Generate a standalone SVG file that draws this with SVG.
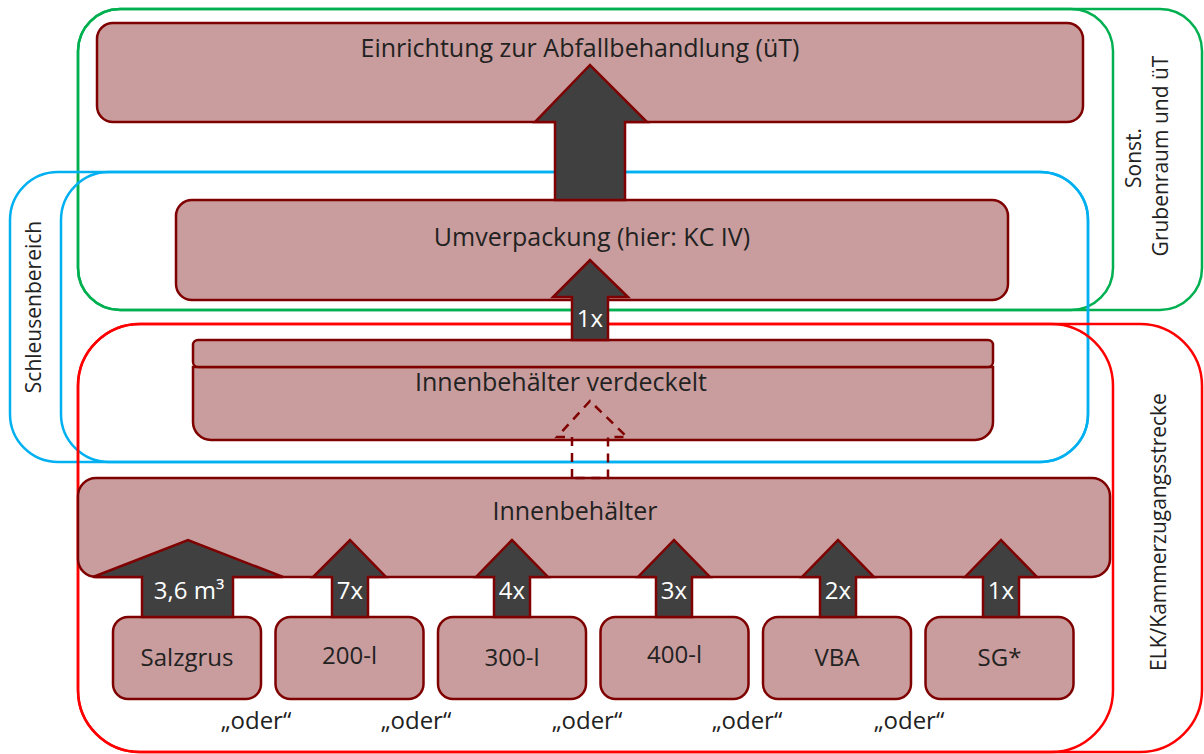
<svg xmlns="http://www.w3.org/2000/svg" width="1204" height="754" viewBox="0 0 1204 754">
<style>
.bg{fill:#ffffff}
.reg{fill:none;stroke-width:2.5}
.g{stroke:#00B050}
.b{stroke:#00B0F0}
.r{stroke:#FF0000}
.box{fill:#C99D9D;stroke:#7F0000;stroke-width:2.5}
.arr{fill:#404040;stroke:#7F0000;stroke-width:2.5;stroke-linejoin:miter}
.dash{fill:none;stroke:#7F0000;stroke-width:2.5;stroke-dasharray:9,7}
text{font-family:"Open Sans","Noto Sans","Liberation Sans",sans-serif;font-size:24px;fill:#222222}
.big{font-size:25px}
.side{font-size:21px}
.c{text-anchor:middle}
.w{fill:#ffffff}
</style>
<rect class="bg" width="1204" height="754"/>
<g id="regions">
  <rect class="reg g" x="78" y="9" width="1124" height="301" rx="42"/>
  <rect class="reg g" x="78" y="9" width="1035" height="301" rx="42"/>
  <rect class="reg b" x="10" y="172" width="1078" height="290" rx="48"/>
  <rect class="reg b" x="61" y="172" width="1027" height="290" rx="48"/>
  <rect class="reg r" x="78" y="324" width="1124" height="428" rx="62"/>
  <rect class="reg r" x="78" y="324" width="1035" height="428" rx="62"/>
  <text transform="translate(41,307) rotate(-90)" class="c side">Schleusenbereich</text>
  <text transform="translate(1141,158) rotate(-90)" class="c side">Sonst.</text>
  <text transform="translate(1168,156) rotate(-90)" class="c side">Grubenraum und üT</text>
  <text transform="translate(1166,532) rotate(-90)" class="c side">ELK/Kammerzugangsstrecke</text>
</g>
<g id="node-einrichtung">
  <rect class="box" x="97" y="23" width="986" height="99" rx="16"/>
  <text class="c big" x="580" y="57">Einrichtung zur Abfallbehandlung (üT)</text>
</g>
<g id="node-umverpackung">
  <rect class="box" x="176" y="200" width="832" height="100" rx="16"/>
  <text class="c big" x="592" y="246">Umverpackung (hier: KC IV)</text>
</g>
<g id="node-innenbehaelter-verdeckelt">
  <path class="box" d="M193,367 H993 V422 A18,18 0 0 1 975,440 H211 A18,18 0 0 1 193,422 Z"/>
  <rect class="box" x="193" y="340" width="800" height="27" rx="5"/>
  <text class="c big" x="561" y="391">Innenbehälter verdeckelt</text>
</g>
<g id="node-innenbehaelter">
  <rect class="box" x="78" y="478" width="1032" height="99" rx="18"/>
  <text class="c big" x="575" y="520">Innenbehälter</text>
</g>
<g id="node-salzgrus">
  <rect class="box" x="113" y="617" width="148" height="82" rx="15"/>
  <text class="c" x="187" y="666">Salzgrus</text>
</g>
<g id="node-200l">
  <rect class="box" x="275.5" y="617" width="148" height="82" rx="15"/>
  <text class="c" x="349.5" y="664">200-l</text>
</g>
<g id="node-300l">
  <rect class="box" x="438" y="617" width="148" height="82" rx="15"/>
  <text class="c" x="512" y="666">300-l</text>
</g>
<g id="node-400l">
  <rect class="box" x="600.5" y="617" width="148" height="82" rx="15"/>
  <text class="c" x="674.5" y="663">400-l</text>
</g>
<g id="node-vba">
  <rect class="box" x="763" y="617" width="148" height="82" rx="15"/>
  <text class="c" x="837" y="666">VBA</text>
</g>
<g id="node-sg">
  <rect class="box" x="925.5" y="617" width="148" height="82" rx="15"/>
  <text class="c" x="999.5" y="666">SG*</text>
</g>
<g id="connectors">
  <polygon class="arr" points="555,200 555,122 535,122 590,65 647,122 625,122 625,200"/>
  <polygon class="arr" points="572,340 572,297 553,297 590,260 628,297 608,297 608,340"/>
  <text class="c w" x="590" y="327">1x</text>
  <polygon class="dash" points="572,478 572,437 557,437 590,401 627,437 608,437 608,478"/>
  <polygon class="arr" points="142,617 142,577 93,577 188,540 283,577 233,577 233,617"/>
  <text class="c w" x="189" y="599">3,6 m³</text>
  <polygon class="arr" points="332,617 332,577 313,577 350,540 386,577 368,577 368,617"/>
  <text class="c w" x="350" y="599">7x</text>
  <polygon class="arr" points="494,617 494,577 476,577 512,540 548,577 530,577 530,617"/>
  <text class="c w" x="512" y="599">4x</text>
  <polygon class="arr" points="656,617 656,577 638,577 674,540 710,577 692,577 692,617"/>
  <text class="c w" x="674" y="599">3x</text>
  <polygon class="arr" points="820,617 820,577 802,577 838,540 874,577 856,577 856,617"/>
  <text class="c w" x="838" y="599">2x</text>
  <polygon class="arr" points="983,617 983,577 965,577 1001,540 1037,577 1019,577 1019,617"/>
  <text class="c w" x="1001" y="599">1x</text>
</g>
<g id="labels">
  <text class="c" x="256" y="729">„oder“</text>
  <text class="c" x="416" y="729">„oder“</text>
  <text class="c" x="587" y="729">„oder“</text>
  <text class="c" x="747" y="729">„oder“</text>
  <text class="c" x="909" y="729">„oder“</text>
</g>
</svg>
